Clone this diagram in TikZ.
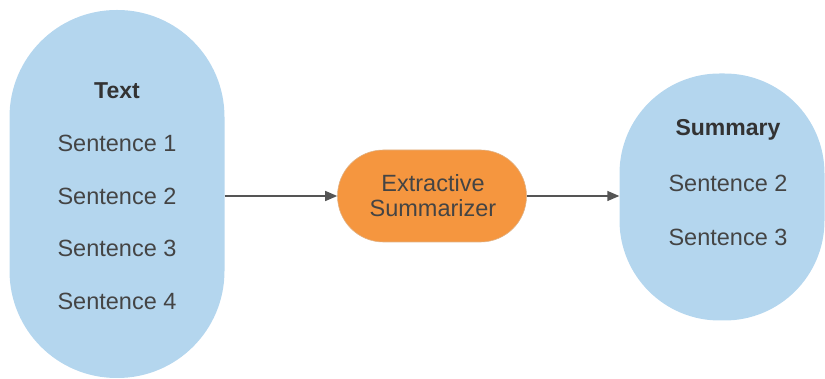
\documentclass[tikz,border=0pt]{standalone}
\usepackage{fontspec}
\setmainfont{Liberation Sans}
\usepackage{xcolor}
\usepackage{tikz}
\usetikzlibrary{arrows.meta, positioning}

\definecolor{docblue}{HTML}{B4D6EE}
\definecolor{sumorange}{HTML}{F5963F}
\definecolor{txtgray}{HTML}{444444}
\definecolor{arrgray}{HTML}{555555}

\tikzset{
  lbl/.style={text=txtgray, font=\fontsize{23.5}{25}\selectfont, inner sep=0pt},
  head/.style={lbl, text=black!80, font=\fontsize{23}{25}\selectfont\bfseries},
  flow/.style={-{Triangle[length=12pt, width=10pt]}, draw=arrgray, line width=1.4pt}
}

\begin{document}
\begin{tikzpicture}[x=1pt, y=-1pt]
          \useasboundingbox (0,0) rectangle (825,379);

          % shapes
          \node[draw=none, fill=docblue, rounded corners=107pt, minimum width=215pt, minimum height=368pt] (T) at (117,194) {};
          \node[draw=none, fill=docblue, rounded corners=100pt, minimum width=205pt, minimum height=247pt] (S) at (722,197) {};
          \node[draw=orange!60!gray!60, fill=sumorange, rounded corners=46pt, minimum width=189pt, minimum height=92pt, line width=0.6pt] (E) at (432,196) {};

          % text of the document
          \node[head] (t0) at (117,91) {Text};
          \node[lbl] (t1) at (117,143) {Sentence 1};
          \node[lbl] (t2) at (117,196) {Sentence 2};
          \node[lbl] (t3) at (117,248) {Sentence 3};
          \node[lbl] (t4) at (117,301) {Sentence 4};

          \node[lbl, align=center] (e0) at (433,196) {Extractive\\Summarizer};

          \node[head] (s0) at (728,130) {Summary};
          \node[lbl] (s1) at (728,183) {Sentence 2};
          \node[lbl] (s2) at (728,237) {Sentence 3};

          \draw[flow] (T.east |- E.west) -- (E.west);
          \draw[flow] (E.east) -- (S.west |- E.east);
        \end{tikzpicture}
\end{document}
